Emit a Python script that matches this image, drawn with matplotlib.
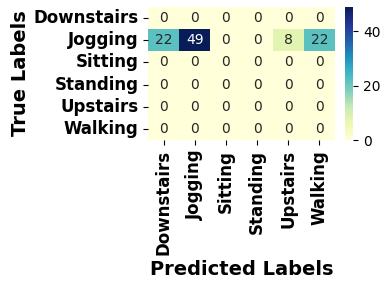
import matplotlib
matplotlib.use("Agg")
import matplotlib.pyplot as plt
import seaborn as sns
import numpy as np

labels = ["Downstairs", "Jogging", "Sitting", "Standing", "Upstairs", "Walking"]
row_downstairs = [0, 0, 0, 0, 0, 0]
row_jogging = [22, 49, 0, 0, 8, 22]
row_sitting = [0, 0, 0, 0, 0, 0]
row_standing = [0, 0, 0, 0, 0, 0]
row_upstairs = [0, 0, 0, 0, 0, 0]
row_walking = [0, 0, 0, 0, 0, 0]

cm = np.array([row_downstairs, row_jogging, row_sitting, row_standing, row_upstairs, row_walking])

fig = plt.figure(figsize=(3.89, 2.9), dpi=100)
ax = fig.add_axes([0.3805, 0.517, 0.4807, 0.459])
cax = fig.add_axes([0.887, 0.517, 0.021, 0.459])

sns.heatmap(cm, annot=True, fmt="d", cmap="YlGnBu", ax=ax, cbar_ax=cax,
            xticklabels=labels, yticklabels=labels, annot_kws={"size": 10})

ax.set_xlabel("Predicted Labels", fontsize=14, fontweight="bold")
ax.set_ylabel("True Labels", fontsize=14, fontweight="bold", labelpad=2)
ax.set_xticklabels(labels, rotation=90, fontsize=12, fontweight="bold")
ax.set_yticklabels(labels, rotation=0, fontsize=12, fontweight="bold")
cax.tick_params(labelsize=10)
cax.set_yticks([0, 20, 40])

fig.savefig("out.png", dpi=100)
